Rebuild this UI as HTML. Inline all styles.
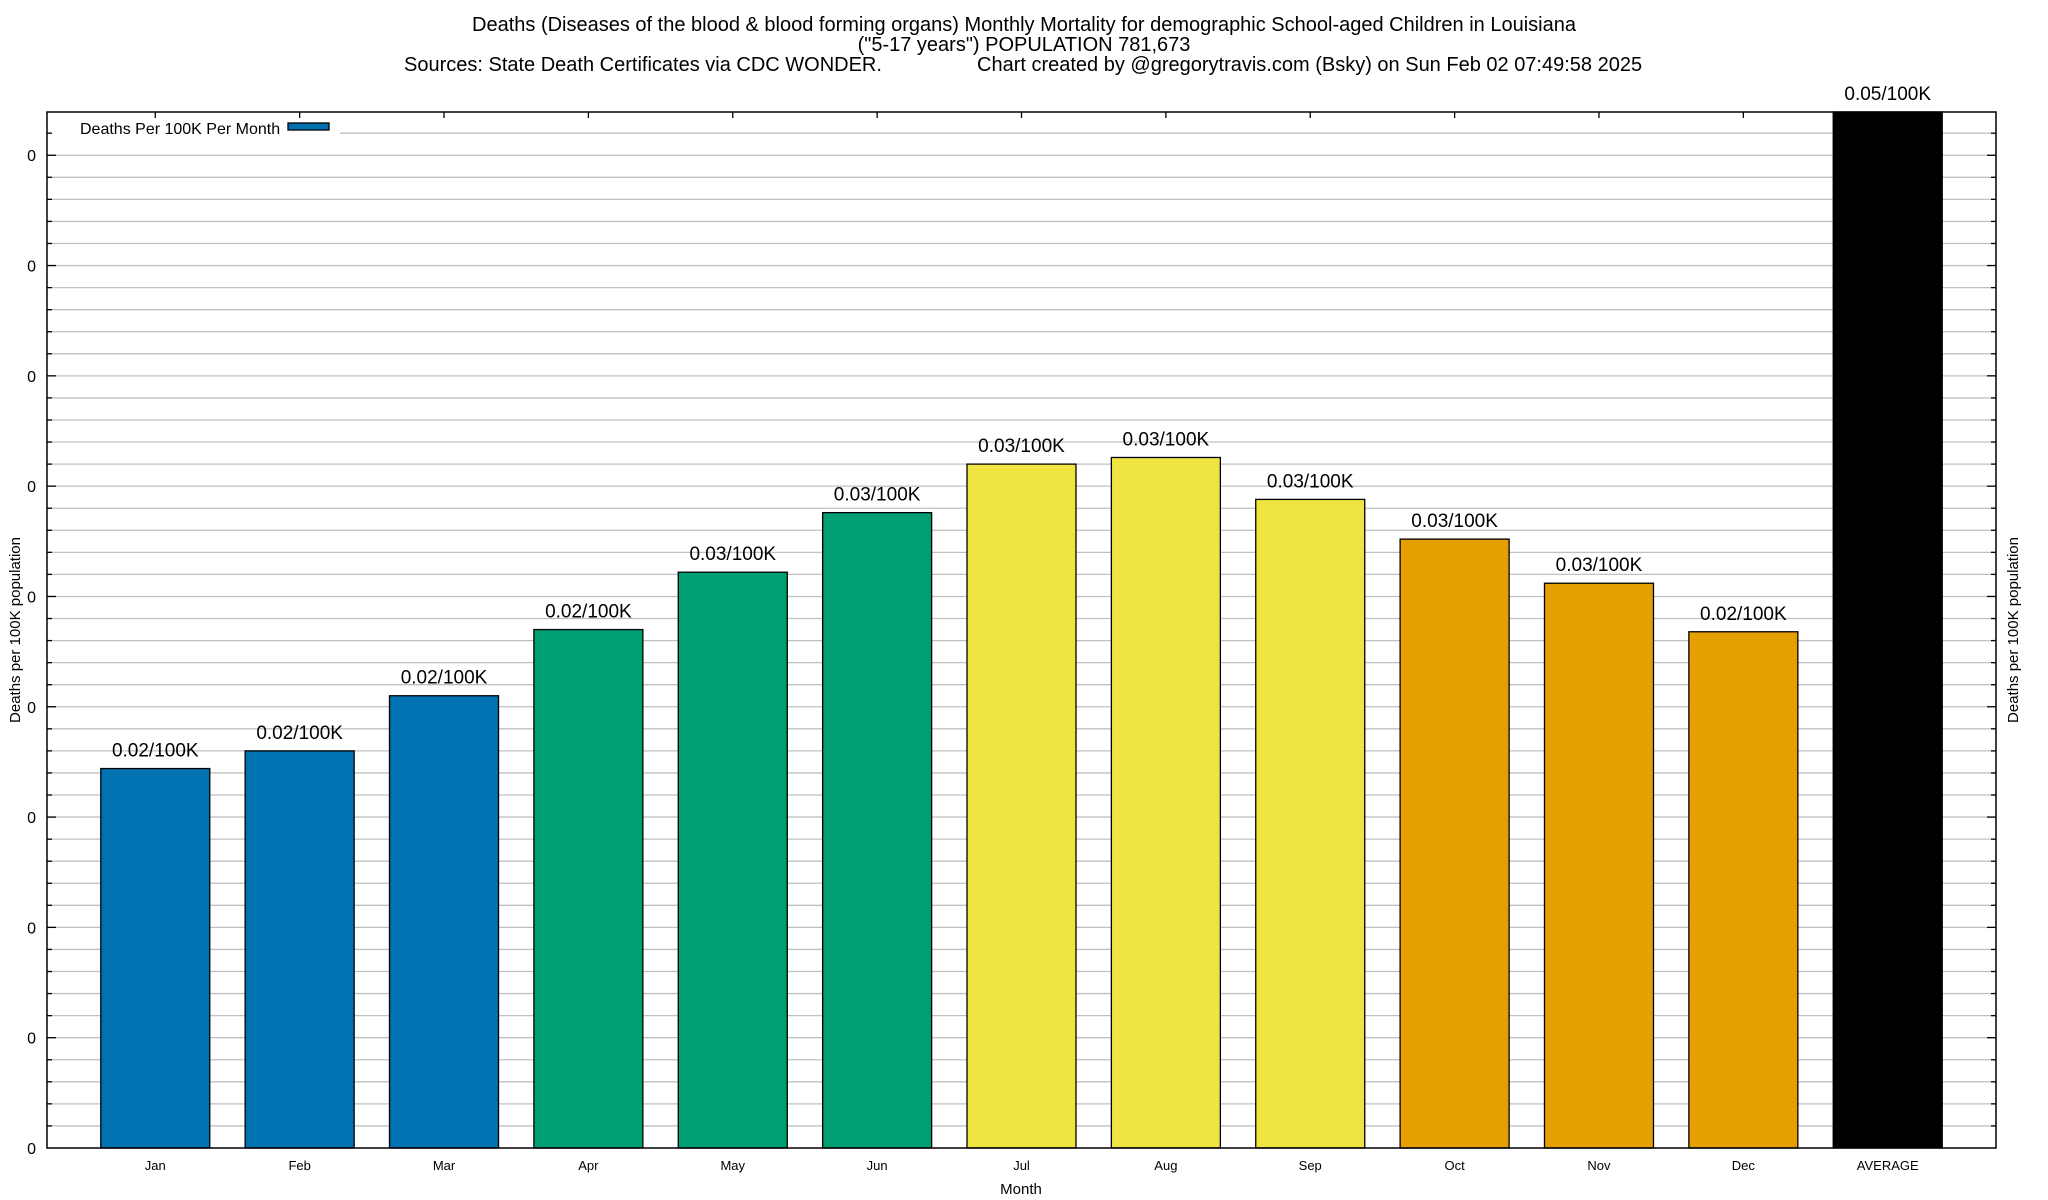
<!DOCTYPE html>
<html><head><meta charset="utf-8"><style>
html,body{margin:0;padding:0;background:#fff;}
svg{display:block;font-family:"Liberation Sans",Arial,sans-serif;}
</style></head><body>
<svg id="chart" width="2048" height="1200" viewBox="0 0 2048 1200" xmlns="http://www.w3.org/2000/svg">
<rect width="2048" height="1200" fill="#fff"/>
<g font-size="20" fill="#000" text-anchor="middle">
<text x="1024" y="31">Deaths (Diseases of the blood &amp; blood forming organs) Monthly Mortality for demographic School-aged Children in Louisiana</text>
<text x="1024" y="51">("5-17 years") POPULATION 781,673</text>
<text x="404" y="71" text-anchor="start">Sources: State Death Certificates via CDC WONDER.</text>
<text x="977" y="71" text-anchor="start">Chart created by @gregorytravis.com (Bsky) on Sun Feb 02 07:49:58 2025</text>
</g>
<g id="grid"></g>
<g id="bars"></g>
<g id="axes"></g>
</svg>
<script>
const categories=["Jan","Feb","Mar","Apr","May","Jun","Jul","Aug","Sep","Oct","Nov","Dec","AVERAGE"];
const values=[0.0172,0.0180,0.0205,0.0235,0.0261,0.0288,0.0310,0.0313,0.0294,0.0276,0.0256,0.0234,0.05];
const valueLabels=["0.02/100K","0.02/100K","0.02/100K","0.02/100K","0.03/100K","0.03/100K","0.03/100K","0.03/100K","0.03/100K","0.03/100K","0.03/100K","0.02/100K","0.05/100K"];
const barColors=["#0072b2","#0072b2","#0072b2","#009e73","#009e73","#009e73","#f0e442","#f0e442","#f0e442","#e69f00","#e69f00","#e69f00","#000000"];
const yTicks=[0,0.005,0.01,0.015,0.02,0.025,0.03,0.035,0.04,0.045];
const yTickLabels=["0","0","0","0","0","0","0","0","0","0"];

const NS="http://www.w3.org/2000/svg";
const L=47,R=1996,T=112,B=1148;
const xMin=-0.75,xMax=12.75,yMin=0,yMax=0.04696;
const xs=i=>L+(i-xMin)/(xMax-xMin)*(R-L);
const ys=v=>B-(v-yMin)/(yMax-yMin)*(B-T);
function mk(tag,attrs,parent){const e=document.createElementNS(NS,tag);for(const k in attrs)e.setAttribute(k,attrs[k]);parent.appendChild(e);return e;}
const grid=document.getElementById('grid'),bars=document.getElementById('bars'),axes=document.getElementById('axes');

const step=yTicks[1]-yTicks[0];
for(let v=0;v<=yMax+1e-9;v+=step/5){
  const y=ys(v);
  if(y<=T+1||y>=B-1)continue;
  const g=mk('line',{x1:L,x2:R,y1:y,y2:y,stroke:'#c0c0c0','stroke-width':1.3},grid);
  
  
  const major=Math.abs(Math.round(v/step)*step-v)<1e-9;
  const tl=major?9:5;
  mk('line',{x1:L,x2:L+tl,y1:y,y2:y,stroke:'#000','stroke-width':1.3},axes);
  mk('line',{x1:R-tl,x2:R,y1:y,y2:y,stroke:'#000','stroke-width':1.3},axes);
}
const lb=mk('rect',{x:L+1,y:T+1,width:292,height:30,fill:'#fff'},grid);



const bw=109;
categories.forEach((c,i)=>{
  const cx=xs(i);
  const top=Math.max(ys(values[i]),T);
  const r=mk('rect',{x:cx-bw/2,y:top,width:bw,height:B-top,fill:barColors[i],stroke:'#000','stroke-width':1.3},bars);
  
  
  const t=mk('text',{x:cx,y:top-12,'font-size':19,'text-anchor':'middle',fill:'#000'},bars);
  t.textContent=valueLabels[i];
  
  
  const xl=mk('text',{x:cx,y:1170,'font-size':13,'text-anchor':'middle',fill:'#000'},axes);
  xl.textContent=c;
  
  
  mk('line',{x1:cx,x2:cx,y1:T,y2:T+6,stroke:'#000','stroke-width':1.3},axes);
});

yTicks.forEach((v,i)=>{
  const t=mk('text',{x:36,y:ys(v)+6,'font-size':16,'text-anchor':'end',fill:'#000'},axes);
  t.textContent=yTickLabels[i];
  
  
});

const fr=mk('rect',{x:L,y:T,width:R-L,height:B-T,fill:'none',stroke:'#000','stroke-width':1.5},axes);



const lt=mk('text',{x:80,y:134,'font-size':16,fill:'#000'},axes);
lt.textContent='Deaths Per 100K Per Month';


const ls=mk('rect',{x:288,y:123,width:41,height:7,fill:'#0072b2',stroke:'#000','stroke-width':1.3},axes);



const yt=mk('text',{x:0,y:0,'font-size':15,'text-anchor':'middle',fill:'#000',transform:'translate(20,630) rotate(-90)'},axes);
yt.textContent='Deaths per 100K population';


const yt2=mk('text',{x:0,y:0,'font-size':15,'text-anchor':'middle',fill:'#000',transform:'translate(2018,630) rotate(-90)'},axes);
yt2.textContent='Deaths per 100K population';


const xt=mk('text',{x:1021,y:1194,'font-size':15,'text-anchor':'middle',fill:'#000'},axes);
xt.textContent='Month';


</script>
</body></html>
